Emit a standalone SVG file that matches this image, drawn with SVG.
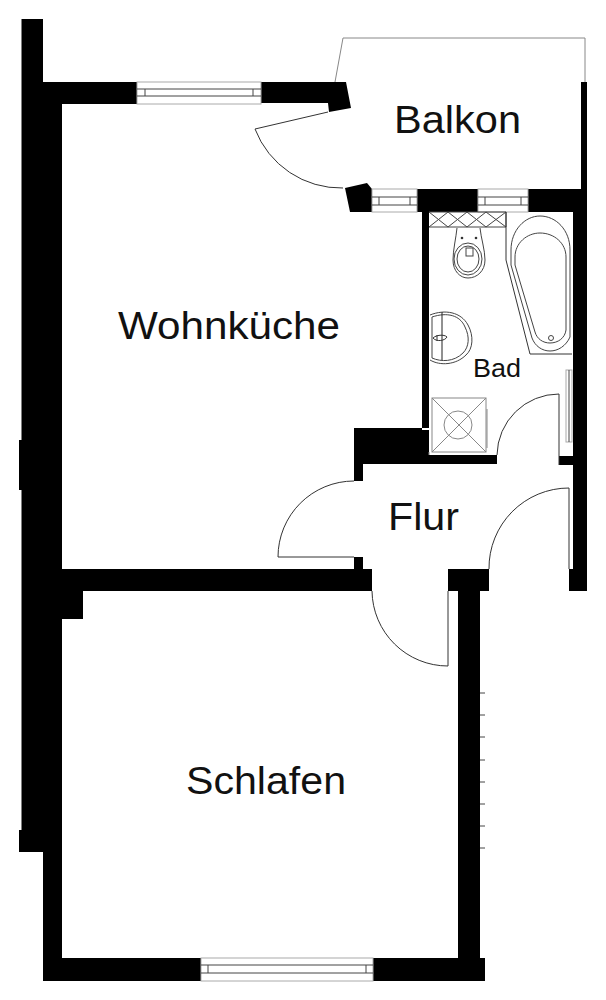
<svg xmlns="http://www.w3.org/2000/svg" width="606" height="1000" viewBox="0 0 606 1000">
<style>
.w{fill:#000}
.l{fill:none;stroke:#444;stroke-width:1}
.d{fill:none;stroke:#333;stroke-width:1}
.g{fill:none;stroke:#888;stroke-width:1}
.win{fill:#fff;stroke:#aaa;stroke-width:1}
.t{fill:#111;font-family:"Liberation Sans",Arial,sans-serif}
</style>
<rect width="606" height="1000" fill="#fff"/>
<g id="walls">
<path class="w" d="M21.500,19H43V82H137V104H62V569H354V557H363V569H372V591H83V619H62V958H201V981H43V852H19V830H21.500V490H19V440H21.500Z"/>
<path class="w" d="M261,82H346L351,108L329,112L328,103H261Z"/>
<path class="w" d="M345,188L367,183L372,189V212H350Z"/>
<path class="w" d="M417,189H478V212H429V428H422V212H417Z"/>
<path class="w" d="M528,189H581V82H587V591H569V569H573V212H528Z"/>
<path class="w" d="M354,428H422V430H429V455H497V464H363V481H354Z"/>
<rect class="w" x="559" y="456" width="14" height="9"/>
<path class="w" d="M448,569H489V591H480V958H485V981H373V958H458V591H448Z"/>
</g>
<g id="windows">
<g id="window-top"><rect class="win" x="137" y="82" width="124" height="22"/><path class="l" d="M137,89H261M137,96H261M145,89V96M253,89V96"/></g>
<g id="window-balcony-1"><rect class="win" x="372" y="189" width="45" height="23"/><path class="l" d="M372,197H417M372,205H417M379,197V205M410,197V205"/></g>
<g id="window-balcony-2"><rect class="win" x="478" y="189" width="50" height="23"/><path class="l" d="M478,197H528M478,205H528M485,197V205M521,197V205"/></g>
<g id="window-bottom"><rect class="win" x="201" y="958" width="172" height="23"/><path class="l" d="M201,965H373M201,973H373M208,965V973M366,965V973"/></g>
<g id="window-bath"><rect class="win" x="566" y="370" width="6" height="72"/><path class="l" d="M569,370V442"/></g>
</g>
<g id="balcony-rail"><path class="g" d="M335,82L343,38H585V82"/></g>
<g id="doors">
<path class="d" d="M328,112L255,129A92,92 0 0 0 343,188"/>
<path class="d" d="M354,481A76,76 0 0 0 278,557H354"/>
<path class="d" d="M569,569V488A80,80 0 0 0 489,569"/>
<path class="d" d="M372,591A76,76 0 0 0 448,666V591"/>
<path class="d" d="M559,465V394A62,62 0 0 0 497,455"/>
</g>
<g id="ticks"><path class="l" d="M480,693H485M480,715H485M480,737H485M480,760H485M480,782H485M480,804H485M480,826H485M480,848H485"/></g>
<g id="bath-fittings">
<g id="hatch"><path class="l" d="M429,227H506V212H429M429,212L448,227M448,212L429,227M448,212L467,227M467,212L448,227M467,212L486,227M486,212L467,227M486,212L506,227M506,212L486,227"/></g>
<g id="toilet"><path class="l" d="M457,228C456,238 453,250 453,260C453,271 460,278 468,278C477,278 485,271 485,260C485,250 481,238 480,228"/><ellipse class="l" cx="468" cy="259" rx="14" ry="16"/><ellipse class="l" cx="468" cy="259" rx="11" ry="13"/><rect class="l" x="466" y="248" width="7" height="8"/><circle cx="462" cy="238" r="1.300" fill="#333"/><circle cx="476" cy="238" r="1.300" fill="#333"/></g>
<g id="bathtub"><path class="d" d="M506,212V260L530,354H572"/><path class="l" d="M511,250C511,230 525,216 540,216C556,216 570,230 570,250V337C566,346 558,351 550,351C542,351 535,346 532,338L511,265Z"/><path class="l" d="M515,257C515,243 527,233 540,233C554,233 566,243 566,257V330C565,338 558,343 550,343C543,343 537,339 535,332L515,265Z"/><circle class="l" cx="551" cy="338" r="2.500"/></g>
<g id="sink"><path class="l" d="M430,315C445,309 461,312 468,325C474,336 473,349 466,355C456,365 440,366 430,360"/><path class="l" d="M432,317C447,312 460,315 465,327C470,337 469,347 463,353C454,362 441,362 432,358V317Z"/><path d="M442,312V360" fill="none" stroke="#222" stroke-width="1"/><path class="d" d="M433,338C436,335 444,334 447,337C445,341 436,342 433,338ZM437,335V341"/></g>
<g id="shower"><rect class="g" x="432" y="398" width="54" height="54"/><path class="g" d="M432,398L486,452M486,398L432,452M487,409V448M429,455V452"/><circle class="g" cx="458" cy="425" r="14"/></g>
</g>
<g id="labels">
<text class="t" x="394" y="133" font-size="38" textLength="127" lengthAdjust="spacingAndGlyphs">Balkon</text>
<text class="t" x="118" y="339" font-size="38" textLength="222" lengthAdjust="spacingAndGlyphs">Wohnküche</text>
<text class="t" x="473" y="377" font-size="25" textLength="48" lengthAdjust="spacingAndGlyphs">Bad</text>
<text class="t" x="388" y="530" font-size="38" textLength="71" lengthAdjust="spacingAndGlyphs">Flur</text>
<text class="t" x="186" y="794" font-size="38" textLength="160" lengthAdjust="spacingAndGlyphs">Schlafen</text>
</g>
</svg>
